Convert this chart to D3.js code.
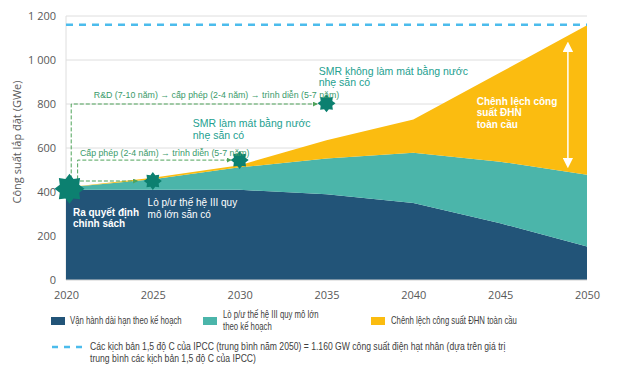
<!DOCTYPE html>
<html>
<head>
<meta charset="utf-8">
<script src="https://cdn.jsdelivr.net/npm/d3@7"></script>
<style>
  body { margin: 0; background: #fff; }
  svg { display: block; font-family: "Liberation Sans", Arial, sans-serif; }
</style>
</head>
<body>
<div id="chart"></div>
<script>
// Installed nuclear capacity scenario (GWe), stacked areas

const years = [2020, 2025, 2030, 2035, 2040, 2045, 2050];
const longTermOperation = [410, 410, 410, 390, 350, 258, 152];
const gen3Large = [10, 48, 102, 162, 228, 280, 326];
const globalGap = [0, 7, 10, 83, 152, 405, 680];
const yTicks = [0, 200, 400, 600, 800, 1000, 1200];
const ipccTarget = 1160;

const seriesKeys = ["lto", "gen3", "gap"];
const seriesColors = { lto: "#225478", gen3: "#4bb5aa", gap: "#fbbc10" };
const legendLabels = {
  lto: ["Vận hành dài hạn theo kế hoạch"],
  gen3: ["Lò p/ư thế hệ III quy mô lớn", "theo kế hoạch"],
  gap: ["Chênh lệch công suất ĐHN toàn cầu"]
};

// milestones (stars)
const milestones = [
  { year: 2020.2, value: 415, big: true },
  { year: 2025, value: 450 },
  { year: 2030, value: 545 },
  { year: 2035, value: 803 }
];

const width = 624, height = 375;
const margin = { top: 16, right: 37, bottom: 95, left: 66 };
const innerW = width - margin.left - margin.right;
const innerH = height - margin.top - margin.bottom;

const svg = d3.select("#chart").append("svg")
  .attr("width", width).attr("height", height);

const g = svg.append("g").attr("transform", `translate(${margin.left},${margin.top})`);

const x = d3.scaleLinear().domain([2020, 2050]).range([0, innerW]);
const y = d3.scaleLinear().domain([0, 1200]).range([innerH, 0]);

// grid
g.append("g").selectAll("line").data(yTicks.slice(1)).enter().append("line")
  .attr("x1", 0).attr("x2", innerW)
  .attr("y1", d => y(d)).attr("y2", d => y(d))
  .attr("stroke", "#dedede").attr("stroke-width", 1);
g.append("line").attr("x1", 0).attr("x2", 0).attr("y1", 0).attr("y2", innerH)
  .attr("stroke", "#dedede");

// stacked areas
const table = years.map((yr, i) => ({ year: yr, lto: longTermOperation[i], gen3: gen3Large[i], gap: globalGap[i] }));
const stacked = d3.stack().keys(seriesKeys)(table);
const area = d3.area().x(d => x(d.data.year)).y0(d => y(d[0])).y1(d => y(d[1]));

g.append("g").selectAll("path").data(stacked).enter().append("path")
  .attr("d", area)
  .attr("fill", d => seriesColors[d.key]);

g.append("line").attr("x1", 0).attr("x2", innerW).attr("y1", innerH).attr("y2", innerH)
  .attr("stroke", "#d0d0d0");

// IPCC dashed target
g.append("line")
  .attr("x1", 0).attr("x2", innerW)
  .attr("y1", y(ipccTarget)).attr("y2", y(ipccTarget))
  .attr("stroke", "#4cbcec").attr("stroke-width", 2.5)
  .attr("stroke-dasharray", "7,6");

// axes
const yAxis = g.append("g")
  .call(d3.axisLeft(y).tickValues(yTicks).tickSize(0).tickPadding(10)
    .tickFormat(d => d3.format(",")(d).replace(",", " ")))
  .call(a => a.select(".domain").remove());
yAxis.selectAll("text").attr("fill", "#595959").style("font-size", "11px")
  .style("font-family", "'Open Sans', sans-serif");

const xAxis = g.append("g").attr("transform", `translate(0,${innerH})`)
  .call(d3.axisBottom(x).tickValues(years).tickSize(0).tickPadding(11).tickFormat(d3.format("d")))
  .call(a => a.select(".domain").remove());
xAxis.selectAll("text").attr("fill", "#595959").style("font-size", "11px")
  .style("font-family", "'Open Sans', sans-serif");

svg.append("text")
  .attr("transform", `translate(21,${margin.top + innerH / 2 - 6}) rotate(-90)`)
  .attr("text-anchor", "middle")
  .attr("fill", "#595959").style("font-size", "11px")
  .style("font-family", "'Open Sans', sans-serif")
  .text("Công suất lắp đặt (GWe)");

// dashed green arrows (pathways)
const arrowColor = "#4fa35a";
const defs = svg.append("defs");
defs.append("marker").attr("id", "ah").attr("viewBox", "0 0 6 6")
  .attr("refX", 5).attr("refY", 3).attr("markerWidth", 5).attr("markerHeight", 5)
  .attr("orient", "auto")
  .append("path").attr("d", "M0,0 L6,3 L0,6 Z").attr("fill", arrowColor);

const pathways = [
  { pts: [[2020.3, 430], [2020.3, 800], [2034.45, 800]] },
  { pts: [[2020.67, 430], [2020.67, 545], [2029.5, 545]] },
  { pts: [[2020.8, 450], [2024.1, 450]] }
];
const pLine = d3.line().x(d => x(d[0])).y(d => y(d[1]));
g.append("g").selectAll("path").data(pathways).enter().append("path")
  .attr("d", d => pLine(d.pts))
  .attr("fill", "none").attr("stroke", arrowColor).attr("stroke-width", 1)
  .attr("stroke-dasharray", "4,2")
  .attr("marker-end", "url(#ah)");

// stars
function starPath(rOut, rIn, n) {
  const pts = [];
  for (let i = 0; i < n * 2; i++) {
    const r = i % 2 === 0 ? rOut : rIn;
    const a = Math.PI * i / n - Math.PI / 2;
    pts.push([r * Math.cos(a), r * Math.sin(a)]);
  }
  return d3.line()(pts) + "Z";
}
g.append("g").selectAll("path").data(milestones).enter().append("path")
  .attr("transform", d => `translate(${x(d.year)},${y(d.value)})`)
  .attr("d", d => d.big ? starPath(15, 10.5, 8) : starPath(9, 6.3, 8))
  .attr("fill", "#0c8070");

// annotations
function multiText(sel, lines, lh) {
  lines.forEach((l, i) => sel.append("tspan").attr("x", sel.attr("x")).attr("dy", i === 0 ? 0 : lh).text(l));
}
const notes = [
  { year: 2021.6, value: 828, lines: ["R&D (7-10 năm) → cấp phép (2-4 năm) → trình diễn (5-7 năm)"], size: 8.8, color: "#3a9a6a" },
  { year: 2020.8, value: 562, lines: ["Cấp phép (2-4 năm) → trình diễn (5-7 năm)"], size: 8.8, color: "#3a9a6a" },
  { year: 2034.55, value: 932, lines: ["SMR không làm mát bằng nước", "nhẹ sẵn có"], size: 10.5, color: "#23a08f" },
  { year: 2027.3, value: 694, lines: ["SMR làm mát bằng nước", "nhẹ sẵn có"], size: 10.5, color: "#23a08f" },
  { year: 2043.65, value: 795, lines: ["Chênh lệch công", "suất ĐHN", "toàn cầu"], size: 10, color: "#fff", bold: true },
  { year: 2020.4, value: 293, lines: ["Ra quyết định", "chính sách"], size: 10, color: "#fff", bold: true },
  { year: 2024.7, value: 335, lines: ["Lò p/ư thế hệ III quy", "mô lớn sẵn có"], size: 10, color: "#fff" }
];
notes.forEach(n => {
  const t = g.append("text").attr("x", x(n.year)).attr("y", y(n.value))
    .attr("fill", n.color).style("font-size", n.size + "px")
    .style("font-weight", n.bold ? "bold" : "normal");
  multiText(t, n.lines, 11.3);
});

// white double arrow over the gap
defs.append("marker").attr("id", "wh").attr("viewBox", "0 0 8 8")
  .attr("refX", 4).attr("refY", 4).attr("markerWidth", 7).attr("markerHeight", 7)
  .attr("orient", "auto-start-reverse")
  .append("path").attr("d", "M0,0 L8,4 L0,8 Z").attr("fill", "#fff");
g.append("line")
  .attr("x1", x(2048.9)).attr("x2", x(2048.9))
  .attr("y1", y(1060)).attr("y2", y(532))
  .attr("stroke", "#fff").attr("stroke-width", 1.5)
  .attr("marker-start", "url(#wh)").attr("marker-end", "url(#wh)");

// legend (condensed text, squeezed horizontally)
const legend = svg.append("g");
const legendX = { lto: 51, gen3: 203, gap: 371 };
seriesKeys.forEach(k => {
  const row = legend.append("g").attr("transform", `translate(${legendX[k]},317)`);
  row.append("rect").attr("width", 14).attr("height", 8).attr("fill", seriesColors[k]);
  const lines = legendLabels[k];
  const tx = k === "lto" ? 19 : 20;
  const t = row.append("text").attr("x", 0)
    .attr("transform", `translate(${tx},${lines.length > 1 ? 1 : 7}) scale(0.74,1)`)
    .attr("fill", "#404040").style("font-size", "10.5px");
  multiText(t, lines, 12);
});
const dashRow = legend.append("g").attr("transform", "translate(52,347)");
dashRow.append("line").attr("x1", 0).attr("x2", 30).attr("y1", 0).attr("y2", 0)
  .attr("stroke", "#4cbcec").attr("stroke-width", 2.5).attr("stroke-dasharray", "6,6");
const dt = dashRow.append("text").attr("x", 0)
  .attr("transform", "translate(38,3) scale(0.82,1)")
  .attr("fill", "#404040").style("font-size", "10.5px");
multiText(dt, ["Các kịch bản 1,5 độ C của IPCC (trung bình năm 2050) = 1.160 GW công suất điện hạt nhân (dựa trên giá trị",
  "trung bình các kịch bản 1,5 độ C của IPCC)"], 12);
</script>
</body>
</html>
